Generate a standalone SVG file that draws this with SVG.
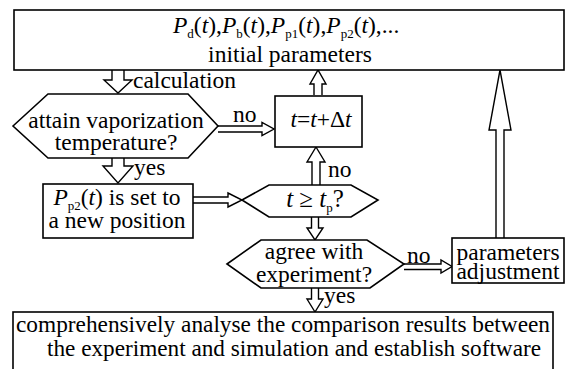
<svg xmlns="http://www.w3.org/2000/svg" width="568" height="369" viewBox="0 0 568 369">
<style>
.shape{fill:#fff;stroke:#000;stroke-width:1.6}
.arr{fill:#fff;stroke:#000;stroke-width:1.4;stroke-linejoin:miter}
text{font-family:"Liberation Serif","Times New Roman",serif;font-size:23.5px;fill:#000}
.c{text-anchor:middle}
.i{font-style:italic}
.sub{font-size:13px;font-style:normal}
</style>
<rect width="568" height="369" fill="#fff"/>

<g id="connectors">
  <!-- calculation: top box -> hex1 -->
  <path class="arr" d="M112,70 V80 H104 L118,93 L132,80 H124 V70"/>
  <text x="133" y="88">calculation</text>
  <!-- yes: hex1 -> Pp2 box -->
  <path class="arr" d="M112,158 V166 H103 L118,183 L133,166 H124 V158"/>
  <text x="134" y="175">yes</text>
  <!-- no: hex1 -> t box -->
  <path class="arr" d="M218,126 H262 V122.5 L274,129 L262,135.5 V132 H218"/>
  <text x="233" y="122">no</text>
  <!-- t box -> top box -->
  <path class="arr" d="M314,95 V84 H310 L318,70 L326,84 H322 V95"/>
  <!-- no: t>=tp -> t box -->
  <path class="arr" d="M312,185 V162 H307 L316,147 L325,162 H320 V185"/>
  <text x="328" y="177">no</text>
  <!-- Pp2 box -> t>=tp -->
  <path class="arr" d="M193,197 H228 V193 L242,200 L228,207 V203 H193"/>
  <!-- t>=tp -> agree -->
  <path class="arr" d="M311.5,217 V228 H307 L315,240 L323,228 H318.5 V217"/>
  <!-- no: agree -> params -->
  <path class="arr" d="M404,264 H441 V260 L452,266.5 L441,273 V269.5 H404"/>
  <text x="407" y="263">no</text>
  <!-- yes: agree -> bottom box -->
  <path class="arr" d="M311.5,288 V299 H307 L315,312 L323,299 H318.5 V288"/>
  <text x="324" y="303">yes</text>
  <!-- params -> top box -->
  <path class="arr" d="M496,238 V130 H489 L500,70 L511,130 H504 V238"/>
</g>

<g id="node-init">
  <rect class="shape" x="14" y="10" width="550" height="60"/>
  <text x="173" y="33"><tspan class="i">P</tspan><tspan class="sub" dy="5">d</tspan><tspan dy="-5">(</tspan><tspan class="i">t</tspan>),<tspan class="i">P</tspan><tspan class="sub" dy="5">b</tspan><tspan dy="-5">(</tspan><tspan class="i">t</tspan>),<tspan class="i">P</tspan><tspan class="sub" dy="5">p1</tspan><tspan dy="-5">(</tspan><tspan class="i">t</tspan>),<tspan class="i">P</tspan><tspan class="sub" dy="5">p2</tspan><tspan dy="-5">(</tspan><tspan class="i">t</tspan>),...</text>
  <text class="c" x="290" y="62">initial parameters</text>
</g>

<g id="node-vapor">
  <polygon class="shape" points="13,126 48,94 188,94 218,126 188,158 48,158"/>
  <text class="c" x="116" y="128">attain vaporization</text>
  <text class="c" x="116" y="150">temperature?</text>
</g>

<g id="node-time">
  <rect class="shape" x="275" y="96" width="87" height="51"/>
  <text class="c" x="321" y="127"><tspan class="i">t</tspan>=<tspan class="i">t</tspan>+Δ<tspan class="i">t</tspan></text>
</g>

<g id="node-position">
  <rect class="shape" x="43" y="184" width="150" height="54"/>
  <text class="c" x="117" y="205"><tspan class="i">P</tspan><tspan class="sub" dy="5">p2</tspan><tspan dy="-5">(</tspan><tspan class="i">t</tspan>) is set to</text>
  <text class="c" x="117" y="228">a new position</text>
</g>

<g id="node-tp">
  <polygon class="shape" points="242,200 269,185 351,185 378,200 351,217 269,217"/>
  <text class="c" x="315" y="207" style="font-size:25px"><tspan class="i">t</tspan> ≥ <tspan class="i">t</tspan><tspan class="sub" dy="5">p</tspan><tspan dy="-5">?</tspan></text>
</g>

<g id="node-agree">
  <polygon class="shape" points="227,264 261,240 367,240 404,264 370,288 261,288"/>
  <text class="c" x="314" y="259">agree with</text>
  <text class="c" x="314" y="282">experiment?</text>
</g>

<g id="node-adjust">
  <rect class="shape" x="452" y="238" width="112" height="45"/>
  <text class="c" x="508" y="260">parameters</text>
  <text class="c" x="508" y="279">adjustment</text>
</g>

<g id="node-result">
  <rect class="shape" x="13" y="312" width="540" height="62"/>
  <text class="c" x="283" y="332" textLength="534" lengthAdjust="spacingAndGlyphs">comprehensively analyse the comparison results between</text>
  <text class="c" x="294" y="356" textLength="494" lengthAdjust="spacingAndGlyphs">the experiment and simulation and establish software</text>
</g>
</svg>
